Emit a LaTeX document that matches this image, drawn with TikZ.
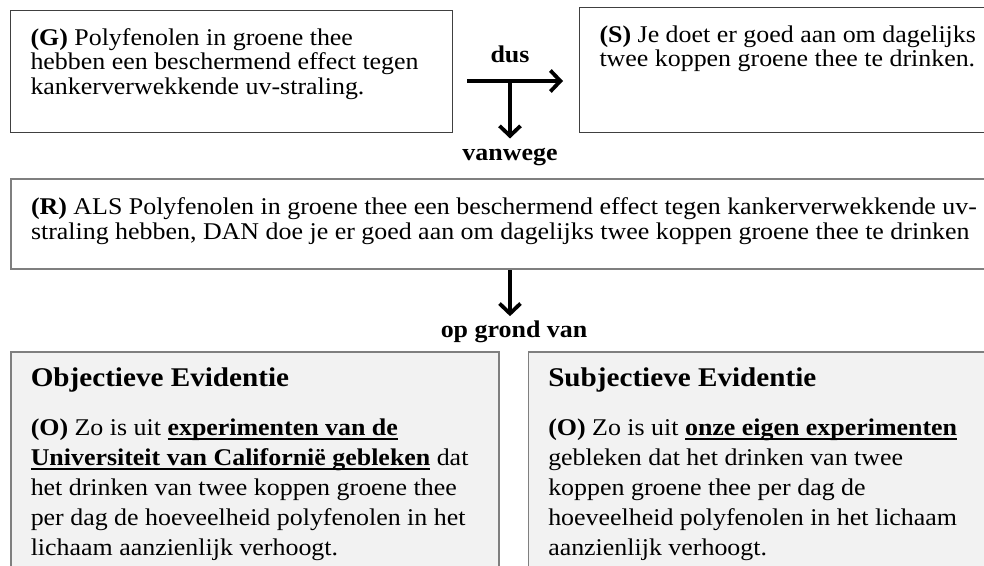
\documentclass[tikz,border=0pt]{standalone}
\usepackage{fontspec}
\setmainfont{Liberation Serif}[FakeStretch=1.08]
\usetikzlibrary{positioning,arrows.meta}

\definecolor{boxgray}{HTML}{7F7F7F}
\definecolor{evfill}{HTML}{F2F2F2}

\newsavebox{\ulbox}
\newcommand{\boxtext}[3]{\parbox[t][#2][t]{#1}{\raggedright #3}}
\newcommand{\claimfont}{\fontsize{24}{24.5}\selectfont}
\newcommand{\evfont}{\fontsize{24}{30}\selectfont}
\newcommand{\evtitle}{\fontsize{27}{30}\selectfont\bfseries}
\newcommand{\evul}[1]{\leavevmode\sbox{\ulbox}{\textbf{#1}}\rlap{\rule[-4pt]{\wd\ulbox}{1.8pt}}\usebox{\ulbox}}

\begin{document}
\begin{tikzpicture}[
x=1pt, y=-1pt,
claim/.style={
draw=black!75,
line width=1pt,
anchor=north west,
inner xsep=20pt,
inner ysep=18pt
},
rulebox/.style={claim, draw=boxgray, line width=2pt, inner ysep=19pt},
evidence/.style={claim, draw=boxgray, fill=evfill, line width=1.5pt, inner ysep=16.5pt},
link/.style={font=\fontsize{24}{28}\selectfont\bfseries, inner sep=1pt, anchor=base},
arr/.style={line width=3.8pt, -{Straight Barb[length=10pt,width=21pt]}}
]
\path[use as bounding box, clip] (0,0) rectangle (984,565);

% claims
\node[claim] (g) at (10,10) {\boxtext{402pt}{86pt}{\claimfont\textbf{(G)} Polyfenolen in groene thee\\
hebben een beschermend effect tegen\\
kankerverwekkende uv-straling.}};
\node[claim, right=126pt of g.north east, anchor=north west, yshift=3pt] (s) {\boxtext{400pt}{89pt}{\claimfont\textbf{(S)} Je doet er goed aan om dagelijks\\
twee koppen groene thee te drinken.}};

% rule
\node[rulebox, below=45pt of g.south west, anchor=north west] (r) {\boxtext{960pt}{52pt}{\claimfont\textbf{(R)} ALS Polyfenolen in groene thee een beschermend effect tegen kankerverwekkende uv-\\
straling hebben, DAN doe je er goed aan om dagelijks twee koppen groene thee te drinken}};

% evidence
\node[evidence, below=81pt of r.south west, anchor=north west] (obj) {\boxtext{448pt}{200pt}{{\evtitle Objectieve Evidentie\par}
\vspace{19pt}
\evfont\textbf{(O)} Zo is uit \evul{experimenten van de}\\
\evul{Universiteit van Californië gebleken} dat\\
het drinken van twee koppen groene thee\\
per dag de hoeveelheid polyfenolen in het\\
lichaam aanzienlijk verhoogt.}};
\node[evidence, right=28pt of obj.north east, anchor=north west] (subj) {\boxtext{440pt}{200pt}{{\evtitle Subjectieve Evidentie\par}
\vspace{19pt}
\evfont\textbf{(O)} Zo is uit \evul{onze eigen experimenten}\\
gebleken dat het drinken van twee\\
koppen groene thee per dag de\\
hoeveelheid polyfenolen in het lichaam\\
aanzienlijk verhoogt.}};

% links
\coordinate (fork) at (510,81);
\node[link] (dus) at (510,62) {dus};
\node[link] (vanwege) at (510,160) {vanwege};
\node[link] (grond) at (514,337) {op grond van};

\draw[arr, shorten <=14pt, shorten >=16pt] (fork -| g.east) -- (fork -| s.west);
\draw[arr, shorten >=8pt] (fork) -- (vanwege.north);
\draw[arr, shorten >=3pt] (r.south -| fork) -- (fork |- grond.north);
\end{tikzpicture}
\end{document}
